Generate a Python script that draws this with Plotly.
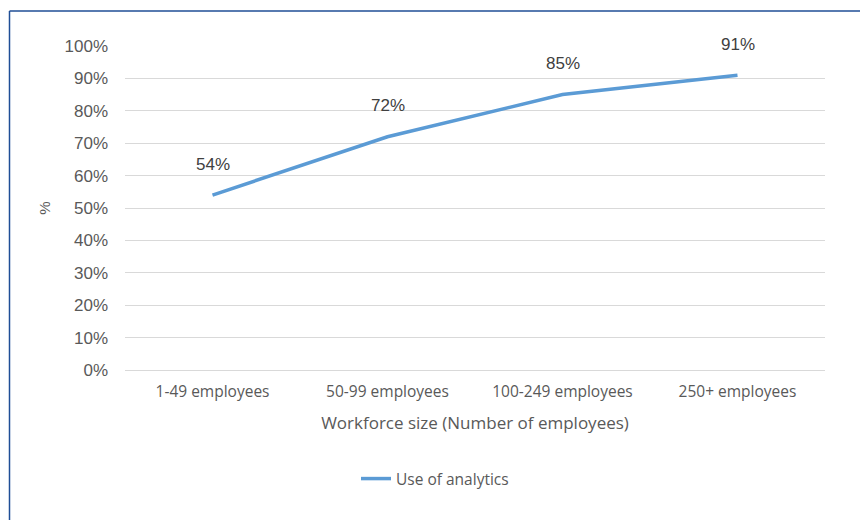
import plotly.graph_objects as go

# Share of firms using analytics, by workforce size
categories = ["1-49 employees", "50-99 employees", "100-249 employees", "250+ employees"]
use_of_analytics = [54, 72, 85, 91]
y_ticks = [0, 10, 20, 30, 40, 50, 60, 70, 80, 90, 100]
y_tick_labels = [f"{v}%" for v in y_ticks]

L, R, T, B = 125, 35, 46, 150
W, H = 860, 520
pw, ph = W - L - R, H - T - B


def px_x(x):
    return (x - L) / pw


def px_y(y):
    return (H - B - y) / ph


text_col = "#595959"
fig = go.Figure()
fig.add_trace(go.Scatter(
    x=categories, y=use_of_analytics, mode="lines",
    name="Use of analytics",
    line=dict(color="#5B9BD5", width=3.5),
))

# value labels above each point
for c, v in zip(categories, use_of_analytics):
    fig.add_annotation(
        x=c, y=v, text=f"{v}%", showarrow=False, yshift=31,
        font=dict(family="Liberation Sans, Arial", size=17, color="#404040"),
    )

fig.update_layout(
    width=W, height=H,
    margin=dict(l=L, r=R, t=T, b=B),
    plot_bgcolor="white", paper_bgcolor="white",
    showlegend=True,
    legend=dict(orientation="h", x=px_x(356), xanchor="left", y=px_y(462), yanchor="top",
                font=dict(family="Open Sans", size=15.5, color=text_col)),
    xaxis=dict(
        range=[-0.5, 3.5], showgrid=False, zeroline=False, showline=False,
        ticks="", ticklabelstandoff=10,
        tickfont=dict(family="Open Sans", size=15.5, color=text_col),
        title=dict(text="Workforce size (Number of employees)",
                   font=dict(family="Open Sans", size=17, color=text_col), standoff=16),
    ),
    yaxis=dict(
        range=[0, 100], tickvals=y_ticks, ticktext=y_tick_labels,
        showgrid=True, gridcolor="#D9D9D9", gridwidth=1,
        zeroline=True, zerolinecolor="#D9D9D9", zerolinewidth=1,
        showline=False, ticks="", ticklabelstandoff=16,
        tickfont=dict(family="Liberation Sans, Arial", size=17, color=text_col),
        title=dict(text="%", font=dict(family="Liberation Sans, Arial", size=15, color=text_col),
                   standoff=10),
    ),
    shapes=[
        dict(type="line", xref="paper", yref="paper",
             x0=px_x(9.5), x1=px_x(870), y0=px_y(11), y1=px_y(11),
             line=dict(color="#1F4E96", width=1.5)),
        dict(type="line", xref="paper", yref="paper",
             x0=px_x(9.5), x1=px_x(9.5), y0=px_y(11), y1=px_y(530),
             line=dict(color="#1F4E96", width=1.5)),
    ],
)

fig.write_html("out.html")
